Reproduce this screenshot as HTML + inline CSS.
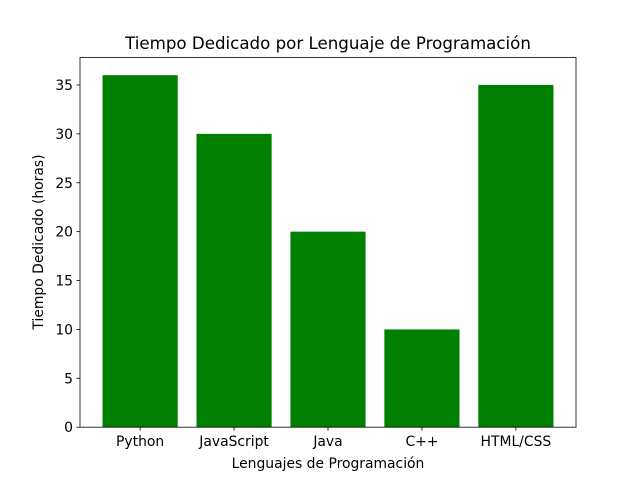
<!DOCTYPE html>
<html><head><meta charset="utf-8"><style>
body{margin:0;background:#fff;}
svg text{font-family:"DejaVu Sans","Liberation Sans",sans-serif;fill:#000;}
</style></head><body>
<svg id="chart" width="640" height="480" viewBox="0 0 640 480">
<rect width="640" height="480" fill="#fff"/>
<text x="328" y="49" font-size="16.67" text-anchor="middle">Tiempo Dedicado por Lenguaje de Programación</text>
<g id="bars"></g>
<g id="axes"></g>
<text x="328" y="468" font-size="13.9" text-anchor="middle">Lenguajes de Programación</text>
<text transform="translate(43,242) rotate(-90)" font-size="13.9" text-anchor="middle">Tiempo Dedicado (horas)</text>
</svg>
<script>
const categories=["Python","JavaScript","Java","C++","HTML/CSS"];
const values=[36,30,20,10,35];
const yTicks=[0,5,10,15,20,25,30,35];
const L=80,R=576,T=57.6,B=427.2;
const ymax=Math.max(...values)*1.05;
const xmin=-0.64,xmax=categories.length-1+0.64;
const xs=i=>L+(i-xmin)/(xmax-xmin)*(R-L);
const ys=v=>B-v/ymax*(B-T);
const NS="http://www.w3.org/2000/svg";
const bars=document.getElementById('bars'),axes=document.getElementById('axes');
function mk(tag,attrs,parent){const e=document.createElementNS(NS,tag);for(const k in attrs)e.setAttribute(k,attrs[k]);parent.appendChild(e);return e;}
const bw=(xs(0.8)-xs(0));
values.forEach((v,i)=>{
 const r=mk('rect',{x:xs(i)-bw/2,y:ys(v),width:bw,height:B-ys(v),fill:'#008000'},bars);
 
 
 mk('line',{x1:xs(i),x2:xs(i),y1:B,y2:B+3.5,stroke:'#000','stroke-width':0.8},axes);
 const t=mk('text',{x:xs(i),y:B+19,'font-size':13.9,'text-anchor':'middle'},axes);
 t.textContent=categories[i];
 
 
});
yTicks.forEach(v=>{
 mk('line',{x1:L-3.5,x2:L,y1:ys(v),y2:ys(v),stroke:'#000','stroke-width':0.8},axes);
 const t=mk('text',{x:L-7,y:ys(v)+5,'font-size':13.9,'text-anchor':'end'},axes);
 t.textContent=v;
 
 
});
const f=mk('rect',{x:L,y:T,width:R-L,height:B-T,fill:'none',stroke:'#000','stroke-width':0.8},axes);


</script>
</body></html>
